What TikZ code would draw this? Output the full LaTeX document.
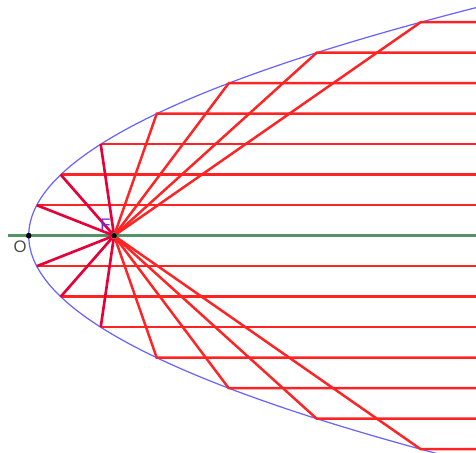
\documentclass[tikz,border=0pt]{standalone}
\usepackage{fontspec}
\setmainfont{Liberation Sans}
\definecolor{rayred}{RGB}{255,35,35}
\definecolor{innerred}{RGB}{230,0,55}
\definecolor{axisgreen}{RGB}{85,145,105}
\definecolor{curveblue}{RGB}{105,100,255}
\definecolor{focusviolet}{RGB}{110,40,210}
\begin{document}
\begin{tikzpicture}[x=0.16cm, y=0.61cm,
            pt/.style={circle, fill=black, minimum size=1.1mm, inner sep=0pt},
            ray/.style={rayred, line width=1.4pt},
            innerray/.style={innerred, line width=1.5pt},
            lbl/.style={font=\fontsize{9.5}{11}\selectfont, inner sep=0pt}
            ]
            \useasboundingbox (-3.59,-7.092) rectangle (55.91,7.728);
            \clip (-3.59,-7.092) rectangle (55.91,7.728);

            \coordinate (l) at (-2.59,0);
            \coordinate (r) at (55.91,0);

            % points on the curve
            \coordinate (p1) at (1,1);
            \coordinate (p2) at (4,2);
            \coordinate (p3) at (9,3);
            \coordinate (p4) at (16,4);
            \coordinate (p5) at (25,5);
            \coordinate (p6) at (36,6);
            \coordinate (p7) at (49,7);
            \coordinate (q1) at (1,-1);
            \coordinate (q2) at (4,-2);
            \coordinate (q3) at (9,-3);
            \coordinate (q4) at (16,-4);
            \coordinate (q5) at (25,-5);
            \coordinate (q6) at (36,-6);
            \coordinate (q7) at (49,-7);

            \node[pt] (O) at (0,0) {};
            \node[pt] (F) at (10.67,0) {};

            \draw[axisgreen, line width=1.4pt] (l) -- (r);
            \draw[curveblue, line width=0.7pt] plot[domain=-7.3:7.6, samples=120] ({\x*\x},\x);

            \draw[ray] (p1) -- (p1 -| r);
            \draw[ray] (p2) -- (p2 -| r);
            \draw[ray] (p3) -- (p3 -| r);
            \draw[ray] (F) -- (p4) -- (p4 -| r);
            \draw[ray] (F) -- (p5) -- (p5 -| r);
            \draw[ray] (F) -- (p6) -- (p6 -| r);
            \draw[ray] (F) -- (p7) -- (p7 -| r);
            \draw[ray] (q1) -- (q1 -| r);
            \draw[ray] (q2) -- (q2 -| r);
            \draw[ray] (q3) -- (q3 -| r);
            \draw[ray] (F) -- (q4) -- (q4 -| r);
            \draw[ray] (F) -- (q5) -- (q5 -| r);
            \draw[ray] (F) -- (q6) -- (q6 -| r);
            \draw[ray] (F) -- (q7) -- (q7 -| r);

            \draw[innerray] (p1)--(F)--(q1);
            \draw[innerray] (p2)--(F)--(q2);
            \draw[innerray] (p3)--(F)--(q3);

            \node[pt] at (O) {};
            \node[pt] at (F) {};
            \node[lbl, text=black!70] (Olabel) at (-1.09,-0.36) {O};
            \node[lbl, text=focusviolet] (Flabel) at (9.6,0.36) {F};

            \end{tikzpicture}
\end{document}
